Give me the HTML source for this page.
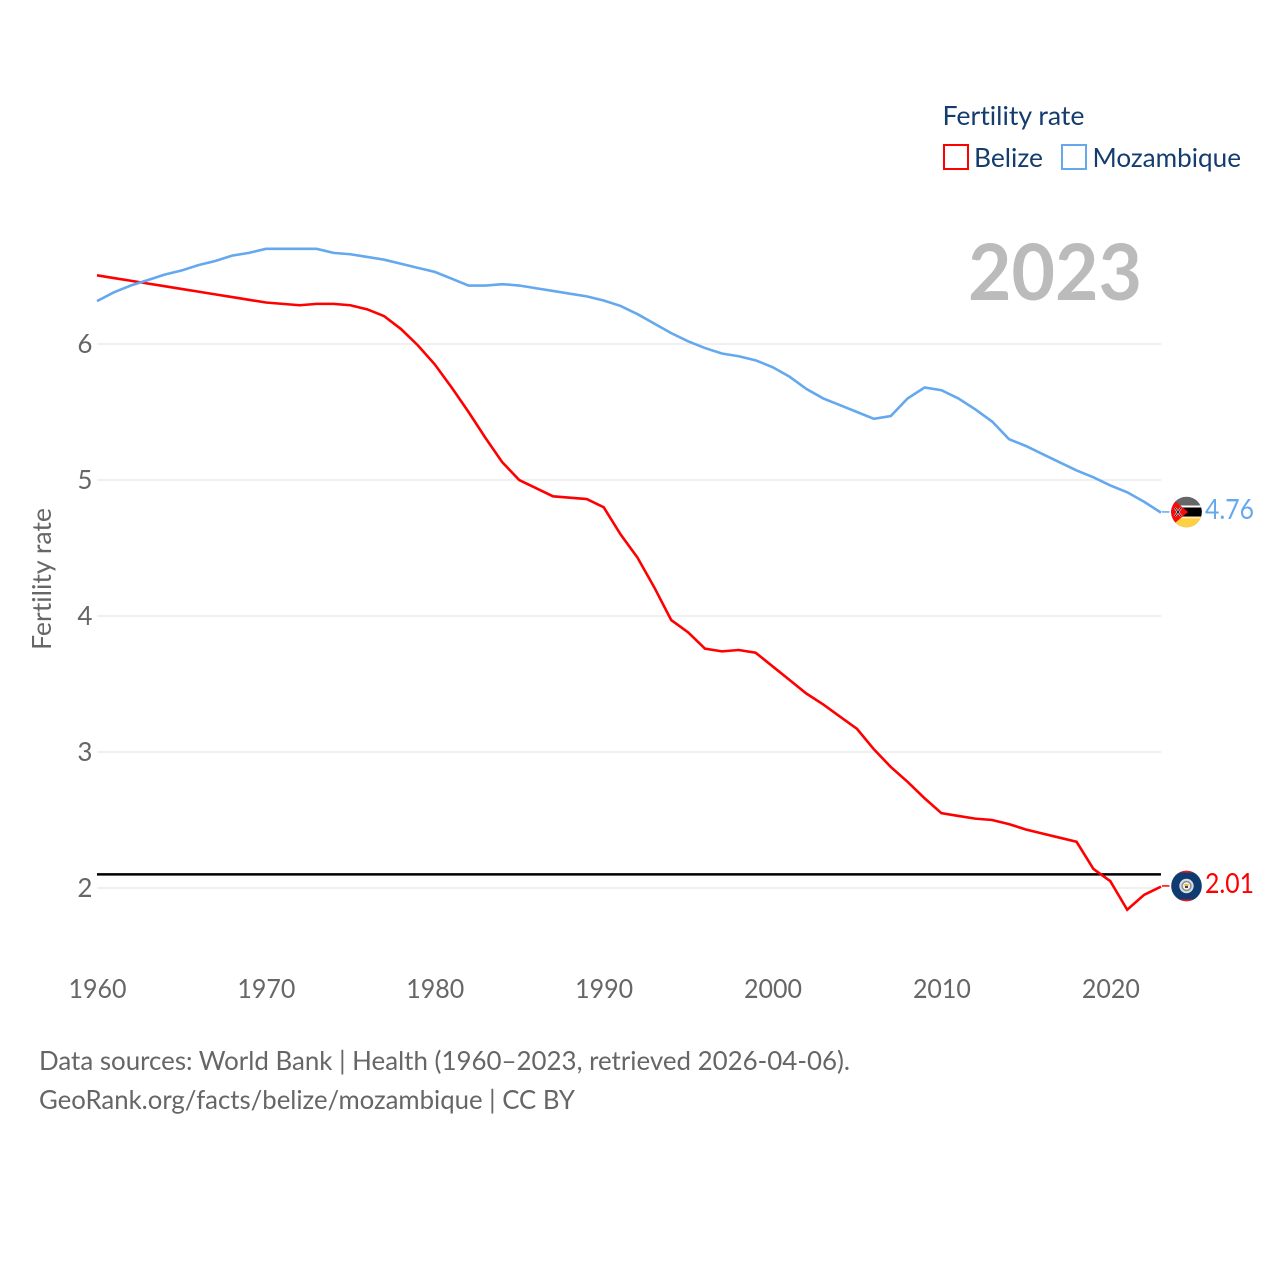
<!DOCTYPE html>
<html lang="en">
<head>
<meta charset="utf-8">
<title>Fertility rate: Belize and Mozambique</title>
<style>
html,body{margin:0;padding:0;background:#fff;width:1280px;height:1280px;overflow:hidden}
svg{display:block}
text{font-family:"Lato","Carlito","Liberation Sans",sans-serif;font-variant-ligatures:none;font-feature-settings:"liga" 0,"clig" 0}
</style>
</head>
<body>
<svg id="chart" width="1280" height="1280" viewBox="0 0 1280 1280" xmlns="http://www.w3.org/2000/svg">
  <defs>
    <clipPath id="clip-moz"><circle cx="1186.5" cy="512" r="15.3"/></clipPath>
    <clipPath id="clip-blz"><circle cx="1186.5" cy="886" r="15.3"/></clipPath>
  </defs>
  <g id="grid"></g>
  <g id="yticks"></g>
  <g id="xticks"></g>
  <text transform="translate(51,650) rotate(-90)" font-size="26" fill="#666" textLength="142" lengthAdjust="spacingAndGlyphs">Fertility rate</text>

  <text x="968" y="300" font-size="78" font-weight="700" fill="#bbbbbb" textLength="174" lengthAdjust="spacingAndGlyphs">2023</text>

  <g>
    <text x="942.5" y="125" font-size="26" fill="#143d6e" textLength="142" lengthAdjust="spacingAndGlyphs">Fertility rate</text>
    <rect x="944" y="145" width="24" height="24" fill="#fff" stroke="#ff0000" stroke-width="2"/>
    <text x="974" y="167" font-size="26" fill="#143d6e" textLength="69" lengthAdjust="spacingAndGlyphs">Belize</text>
    <rect x="1062" y="145" width="24" height="24" fill="#fff" stroke="#64a8ee" stroke-width="2"/>
    <text x="1092.5" y="167" font-size="26" fill="#143d6e" textLength="148.5" lengthAdjust="spacingAndGlyphs">Mozambique</text>
  </g>

  <line id="refline" stroke="#000" stroke-width="2.5"/>
  <g id="series"></g>

  <g clip-path="url(#clip-moz)">
    <rect x="1171" y="496" width="31" height="32" fill="#666666"/>
    <rect x="1171" y="505.5" width="31" height="2" fill="#ffffff"/>
    <rect x="1171" y="507.5" width="31" height="9" fill="#000000"/>
    <rect x="1171" y="516.5" width="31" height="2" fill="#ffe9b0"/>
    <rect x="1171" y="518.5" width="31" height="10" fill="#ffd140"/>
    <polygon points="1169,496 1188,512 1169,528" fill="#f50c0c"/>
    <path d="M1175 508l6 8M1181 508l-6 8" stroke="#fff" stroke-width="2"/>
    <path d="M1175 508l6 8M1181 508l-6 8" stroke="#000" stroke-width="0.9"/>
  </g>
  <g clip-path="url(#clip-blz)">
    <rect x="1171" y="870" width="31" height="32" fill="#0f3b70"/>
    <rect x="1171" y="870" width="31" height="2.5" fill="#e8141c"/>
    <rect x="1171" y="899.5" width="31" height="2.5" fill="#e8141c"/>
    <circle cx="1186.5" cy="886" r="7.2" fill="#d9dde0"/>
    <circle cx="1186.5" cy="886" r="5.2" fill="#8a8f94"/>
    <circle cx="1186.5" cy="886" r="3.7" fill="#f2f2ea"/>
    <rect x="1184.5" y="884" width="4" height="2" fill="#e8b84a"/>
    <rect x="1185" y="886" width="3" height="2" fill="#444"/>
  </g>

  <text id="value-moz" x="1205" y="519" font-size="28" fill="#64a8ee" textLength="49" lengthAdjust="spacingAndGlyphs"></text>
  <text id="value-blz" x="1205" y="893" font-size="28" fill="#ff0000" textLength="49" lengthAdjust="spacingAndGlyphs"></text>

  <g>
    <text x="39" y="1070" font-size="26" fill="#666" textLength="811" lengthAdjust="spacingAndGlyphs">Data sources: World Bank | Health (1960–2023, retrieved 2026-04-06).</text>
    <text x="39" y="1109" font-size="26" fill="#666" textLength="536" lengthAdjust="spacingAndGlyphs">GeoRank.org/facts/belize/mozambique | CC BY</text>
  </g>
</svg>
<script>
const startYear = 1960;
const belizeValues = [6.505,6.485,6.465,6.445,6.425,6.405,6.385,6.365,6.345,6.325,6.305,6.295,6.285,6.295,6.295,6.285,6.255,6.205,6.11,5.99,5.85,5.68,5.50,5.31,5.13,5.00,4.94,4.88,4.87,4.86,4.80,4.60,4.43,4.21,3.97,3.88,3.76,3.74,3.75,3.73,3.63,3.53,3.43,3.35,3.26,3.17,3.02,2.89,2.78,2.66,2.55,2.53,2.51,2.50,2.47,2.43,2.40,2.37,2.34,2.14,2.05,1.84,1.95,2.01];
const mozambiqueValues = [6.315,6.38,6.43,6.47,6.51,6.54,6.58,6.61,6.65,6.67,6.70,6.70,6.70,6.70,6.67,6.66,6.64,6.62,6.59,6.56,6.53,6.48,6.43,6.43,6.44,6.43,6.41,6.39,6.37,6.35,6.32,6.28,6.22,6.15,6.08,6.02,5.97,5.93,5.91,5.88,5.83,5.76,5.67,5.60,5.55,5.50,5.45,5.47,5.60,5.68,5.66,5.60,5.52,5.43,5.30,5.25,5.19,5.13,5.07,5.02,4.96,4.91,4.84,4.76];
const yTickValues = [2,3,4,5,6];
const xTickValues = [1960,1970,1980,1990,2000,2010,2020];
const replacementRate = [2.1];

const NS = 'http://www.w3.org/2000/svg';
function xScale(year){ return 97 + (year - 1960) * (1161 - 97) / 63; }
function yScale(v){ return 888 - (v - 2) * 136; }

const grid = document.getElementById('grid');
const yticks = document.getElementById('yticks');
const xticks = document.getElementById('xticks');
const series = document.getElementById('series');

yTickValues.forEach(function(v){
  const line = document.createElementNS(NS,'line');
  
  
  line.setAttribute('x1', 97);
  line.setAttribute('x2', 1161);
  line.setAttribute('y1', yScale(v));
  line.setAttribute('y2', yScale(v));
  line.setAttribute('stroke', '#ebebeb');
  line.setAttribute('stroke-width', '1.5');
  grid.appendChild(line);

  const t = document.createElementNS(NS,'text');
  
  
  t.setAttribute('x', 92.5);
  t.setAttribute('y', yScale(v) + 9);
  t.setAttribute('text-anchor', 'end');
  t.setAttribute('font-size', '26');
  t.setAttribute('fill', '#666');
  t.textContent = String(v);
  yticks.appendChild(t);
});

xTickValues.forEach(function(y){
  const t = document.createElementNS(NS,'text');
  
  
  t.setAttribute('x', xScale(y) + 0.5);
  t.setAttribute('y', 998);
  t.setAttribute('text-anchor', 'middle');
  t.setAttribute('font-size', '26');
  t.setAttribute('fill', '#666');
  t.setAttribute('textLength', '58');
  t.setAttribute('lengthAdjust', 'spacingAndGlyphs');
  t.textContent = String(y);
  xticks.appendChild(t);
});

const ref = document.getElementById('refline');
ref.setAttribute('x1', 97);
ref.setAttribute('x2', 1161);
ref.setAttribute('y1', yScale(replacementRate[0]));
ref.setAttribute('y2', yScale(replacementRate[0]));

function drawSeries(values, color, name){
  const pts = values.map(function(v,i){ return xScale(startYear + i).toFixed(2) + ',' + yScale(v).toFixed(2); }).join(' ');
  const p = document.createElementNS(NS,'polyline');
  
  
  p.setAttribute('points', pts);
  p.setAttribute('fill', 'none');
  p.setAttribute('stroke', color);
  p.setAttribute('stroke-width', '2.6');
  series.appendChild(p);

  const last = values[values.length - 1];
  const lead = document.createElementNS(NS,'line');
  
  
  lead.setAttribute('x1', xScale(startYear + values.length - 1) + 1);
  lead.setAttribute('x2', 1169.5);
  lead.setAttribute('y1', yScale(last) - 0.7);
  lead.setAttribute('y2', yScale(last) - 0.7);
  lead.setAttribute('stroke', color);
  lead.setAttribute('stroke-width', '1.5');
  series.appendChild(lead);
}
drawSeries(belizeValues, '#ff0000', 'belize-line');
drawSeries(mozambiqueValues, '#64a8ee', 'mozambique-line');

document.getElementById('value-moz').textContent = mozambiqueValues[mozambiqueValues.length - 1].toFixed(2);
document.getElementById('value-blz').textContent = belizeValues[belizeValues.length - 1].toFixed(2);
</script>
</body>
</html>
